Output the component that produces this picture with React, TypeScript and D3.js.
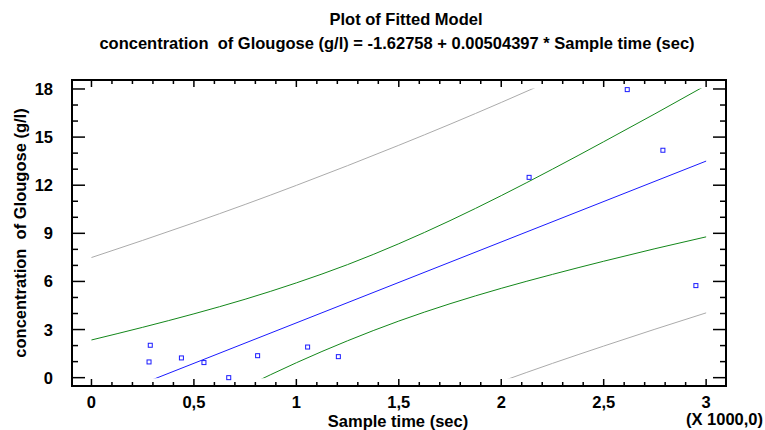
import React from "react";
import * as d3 from "d3";

// ---- data ----
const sampleTime = [287, 281, 439, 549, 670, 811, 1055, 1205, 2136, 2615, 2789, 2950];
const glucose = [2.02, 0.98, 1.23, 0.94, 0.0, 1.37, 1.91, 1.31, 12.49, 17.96, 14.18, 5.74];

const fitX = [0, 3000];
const fitY = [-1.62758, 13.5043];

const bandX = [0, 250, 500, 750, 1000, 1250, 1500, 1750, 2000, 2250, 2500, 2750, 3000];
const upperConf = [2.35, 3.14, 3.98, 4.89, 5.91, 7.05, 8.35, 9.79, 11.35, 13.0, 14.71, 16.45, 18.23];
const lowerConf = [-5.6, -3.87, -2.19, -0.58, 0.93, 2.3, 3.53, 4.61, 5.57, 6.44, 7.26, 8.04, 8.78];
const upperPred = [7.49, 8.56, 9.66, 10.8, 11.99, 13.22, 14.49, 15.8, 17.16, 18.56, 19.99, 21.46, 22.97];
const lowerPred = [-10.74, -9.29, -7.87, -6.49, -5.16, -3.86, -2.61, -1.41, -0.24, 0.89, 1.97, 3.02, 4.04];

const xMajor = [0, 500, 1000, 1500, 2000, 2500, 3000];
const xLabels = ["0", "0,5", "1", "1,5", "2", "2,5", "3"];
const yMajor = [0, 3, 6, 9, 12, 15, 18];
const yLabels = ["0", "3", "6", "9", "12", "15", "18"];

const title1 = "Plot of Fitted Model";
const title2 = "concentration  of Glougose (g/l) = -1.62758 + 0.00504397 * Sample time (sec)";
const xTitle = "Sample time (sec)";
const yTitle = "concentration  of Glougose (g/l)";
const xMultiplier = "(X 1000,0)";

const W = 765;
const H = 430;
const L = 72, R = 726, T = 80, B = 386;
const FONT = "'Liberation Sans', Arial, sans-serif";
const FS = 16.5;

export default function App() {
  const x = d3.scaleLinear().domain([-95, 3097]).range([L, R]);
  const y = d3.scaleLinear().domain([-0.52, 18.56]).range([B, T]);

  const line = d3
    .line<[number, number]>()
    .x((d) => x(d[0]))
    .y((d) => y(d[1]))
    .curve(d3.curveMonotoneX);
  const straight = d3
    .line<[number, number]>()
    .x((d) => x(d[0]))
    .y((d) => y(d[1]));

  const band = (vals: number[]) => line(bandX.map((v, i) => [v, vals[i]] as [number, number])) || "";
  const fitPath = straight(fitX.map((v, i) => [v, fitY[i]] as [number, number])) || "";

  const xMinor = d3.range(0, 3001, 100).filter((v) => v % 500 !== 0);
  const yMinor = d3.range(0, 19, 1).filter((v) => v % 3 !== 0);

  const clipTop = y(18) - 0.5;
  const clipBot = y(0) + 0.5;
  const pre = { whiteSpace: "pre" as const };

  return (
    <svg
      width={W}
      height={H}
      style={{ position: "absolute", left: 0, top: 0, background: "#fff" }}
      fontFamily={FONT}
      fontWeight="bold"
    >
      <rect x={0} y={0} width={W} height={H} fill="#fff" />
      <defs>
        <clipPath id="rng">
          <rect x={L} y={clipTop} width={R - L} height={clipBot - clipTop} />
        </clipPath>
      </defs>

      {/* titles */}
      <text x={406} y={25} textAnchor="middle" fontSize={FS} style={pre}>
        {title1}
      </text>
      <text x={397} y={49} textAnchor="middle" fontSize={FS} style={pre}>
        {title2}
      </text>

      {/* curves */}
      <g clipPath="url(#rng)" fill="none" strokeWidth={1}>
        <path d={band(upperPred)} stroke="#ababab" />
        <path d={band(lowerPred)} stroke="#ababab" />
        <path d={band(upperConf)} stroke="#13871a" />
        <path d={band(lowerConf)} stroke="#13871a" />
        <path d={fitPath} stroke="#1a1aff" />
      </g>

      {/* points */}
      {sampleTime.map((t, i) => (
        <rect
          key={i}
          x={x(t) - 2}
          y={y(glucose[i]) - 2}
          width={4}
          height={4}
          fill="none"
          stroke="#1a1aff"
          strokeWidth={1}
        />
      ))}

      {/* ticks */}
      <g stroke="#000" strokeWidth={1.5}>
        {yMajor.map((v) => (
          <g key={"ym" + v}>
            <line x1={L} x2={L + 13} y1={y(v)} y2={y(v)} />
            <line x1={R} x2={R - 13} y1={y(v)} y2={y(v)} />
          </g>
        ))}
        {yMinor.map((v) => (
          <g key={"yn" + v}>
            <line x1={L} x2={L + 6} y1={y(v)} y2={y(v)} />
            <line x1={R} x2={R - 6} y1={y(v)} y2={y(v)} />
          </g>
        ))}
        {xMajor.map((v) => (
          <g key={"xm" + v}>
            <line x1={x(v)} x2={x(v)} y1={B} y2={B - 7} />
            <line x1={x(v)} x2={x(v)} y1={T} y2={T + 7} />
          </g>
        ))}
        {xMinor.map((v) => (
          <g key={"xn" + v}>
            <line x1={x(v)} x2={x(v)} y1={B} y2={B - 4} />
            <line x1={x(v)} x2={x(v)} y1={T} y2={T + 4} />
          </g>
        ))}
      </g>

      {/* frame */}
      <rect x={L} y={T} width={R - L} height={B - T} fill="none" stroke="#000" strokeWidth={2} />

      {/* tick labels */}
      {yMajor.map((v, i) => (
        <text key={"yl" + v} x={53} y={y(v) + 6} textAnchor="end" fontSize={FS}>
          {yLabels[i]}
        </text>
      ))}
      {xMajor.map((v, i) => (
        <text key={"xl" + v} x={x(v)} y={408} textAnchor="middle" fontSize={FS}>
          {xLabels[i]}
        </text>
      ))}

      {/* axis titles */}
      <text x={398} y={427} textAnchor="middle" fontSize={FS}>
        {xTitle}
      </text>
      <text
        transform={`translate(26, ${(T + B) / 2}) rotate(-90)`}
        textAnchor="middle"
        fontSize={FS}
        style={pre}
      >
        {yTitle}
      </text>
      <text x={763} y={425} textAnchor="end" fontSize={FS}>
        {xMultiplier}
      </text>
    </svg>
  );
}
